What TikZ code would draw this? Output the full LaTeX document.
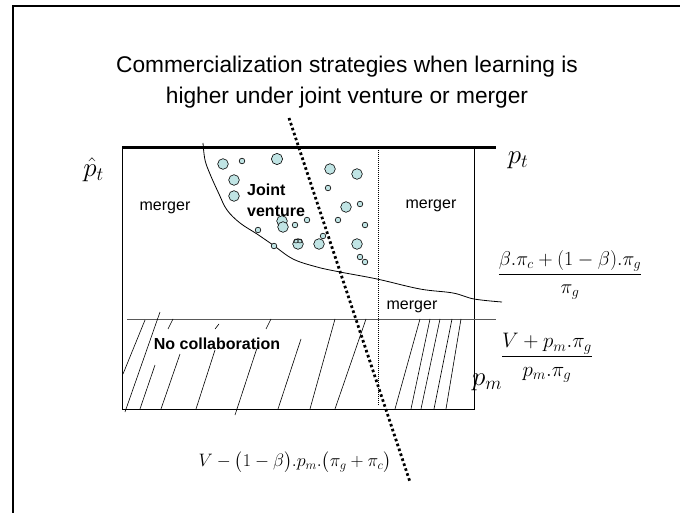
\RequirePackage{fix-cm}
\documentclass[tikz,border=0pt]{standalone}
\usepackage{fontspec}
\setmainfont{Liberation Sans}
\usepackage{amsmath}
\begin{document}
\begin{tikzpicture}[x=1pt,y=-1pt,
  lbl/.style={font=\fontsize{16}{19}\selectfont, inner sep=0pt},
  blbl/.style={font=\fontsize{16}{21}\selectfont\bfseries, inner sep=0pt, align=left},
  mth/.style={font=\fontsize{27}{30}\selectfont, inner sep=0pt},
  frm/.style={font=\fontsize{20}{24}\selectfont, inner sep=0pt},
  bub/.style={draw=black, fill=bubcol, line width=0.6pt},
  hatch/.style={line width=0.6pt}]
\definecolor{bubcol}{RGB}{192,228,228}
\useasboundingbox (0,0) rectangle (680,513);
% frame
\draw[line width=2pt] (13,513) -- (13,6) -- (680,6);
% title
\node[font=\fontsize{22.7}{31}\selectfont, align=center, inner sep=0pt] (title) at (347,82)
  {Commercialization strategies when learning is\\higher under joint venture or merger};
% box
\coordinate (tl) at (122,148);
\coordinate (tr) at (474,148);
\coordinate (bl) at (122,409);
\coordinate (br) at (474,409);
\coordinate (tre) at (496,148);
\draw[line width=0.8pt] (tl) -- (bl) -- (br) -- (tr);
\draw[line width=3pt] (tl) -- (tre);
\coordinate (hl) at (127,319);
\coordinate (hr) at (496,319);
\draw[gray!70!black, line width=0.9pt] (hl) -- (hr);
% thin dotted vertical
\coordinate (vt) at (378,150);
\coordinate (vb) at (378,405);
\draw[line width=0.5pt, dash pattern=on 1pt off 1pt] (vt) -- (vb);
% hatch
\foreach \a/\b/\c/\d in {123/374/145/320, 125/412/160/312, 140/409/155/365, 161/409/180/354,
  168/329/173/319, 196/409/215/350, 215/329/219/324, 235/415/258/345, 266/329/271/319,
  278/409/301/339, 310/409/335/319, 335/409/366/319, 395/409/420/319, 411/409/430/319,
  421/409/440/319, 434/409/452/319, 446/409/461/319}
  \draw[hatch] (\a,\b) -- (\c,\d);
% curve
\draw[line width=0.8pt] plot[smooth, tension=0.6] coordinates {(203,143) (205,160) (210,174) (219,194) (227,210) (240,223) (257,234) (273,245) (293,259) (317,267) (340,272) (377,279) (420,289) (453,293) (474,299) (502,302)};
% bubbles
\foreach \x/\y/\r in {223/164/5.3, 242/161/2.8, 277/159/5.6, 234/180/5.3, 234/196/5.3, 330/169/5.3,
  357/174/5.3, 328/188/2.8, 346/207/5.3, 360/204/2.8, 282/221/5.3, 283/227/5.3, 295/225/2.8,
  307/220/2.8, 338/220/2.8, 365/225/2.8, 258/230/2.8, 274/246/2.8, 298/244/5.3,
  319/244/5.3, 323/236/2.8, 357/244/5.3, 360/257/2.8, 365/262/2.8}
  \draw[bub] (\x,\y) circle (\r);
\draw[line width=0.5pt] (296,241) circle (2) (300,241) circle (2);
% thick dotted line
\coordinate (dt) at (289,118);
\coordinate (db) at (410,482);
\draw[line width=2.8pt, dash pattern=on 2.6pt off 2.6pt] (dt) -- (db);
% labels
\node[lbl] (m1) at (165,208) {merger};
\node[blbl, anchor=west] (jv) at (247,200) {Joint\\venture};
\node[lbl] (m2) at (431,206) {merger};
\node[lbl] (m3) at (412,307) {merger};
\node[blbl] (nc) at (217,344) {No collaboration};
\node[mth, anchor=east] (pht) at (104,170) {$\hat{p}_t$};
\node[mth] (pt) at (518,160) {$p_t$};
\node[mth] (pm) at (487,382) {$p_m$};
\node[frm] (f1) at (570,275) {$\dfrac{\beta.\pi_c+(1-\beta).\pi_g}{\pi_g}$};
\node[frm, font=\fontsize{21}{24}\selectfont] (f2) at (547,358) {$\dfrac{V+p_m.\pi_g}{p_m.\pi_g}$};
\node[frm, font=\fontsize{18}{22}\selectfont] (f3) at (295,462) {$V-\bigl(1-\beta\bigr).p_m.\bigl(\pi_g+\pi_c\bigr)$};
\end{tikzpicture}
\end{document}
